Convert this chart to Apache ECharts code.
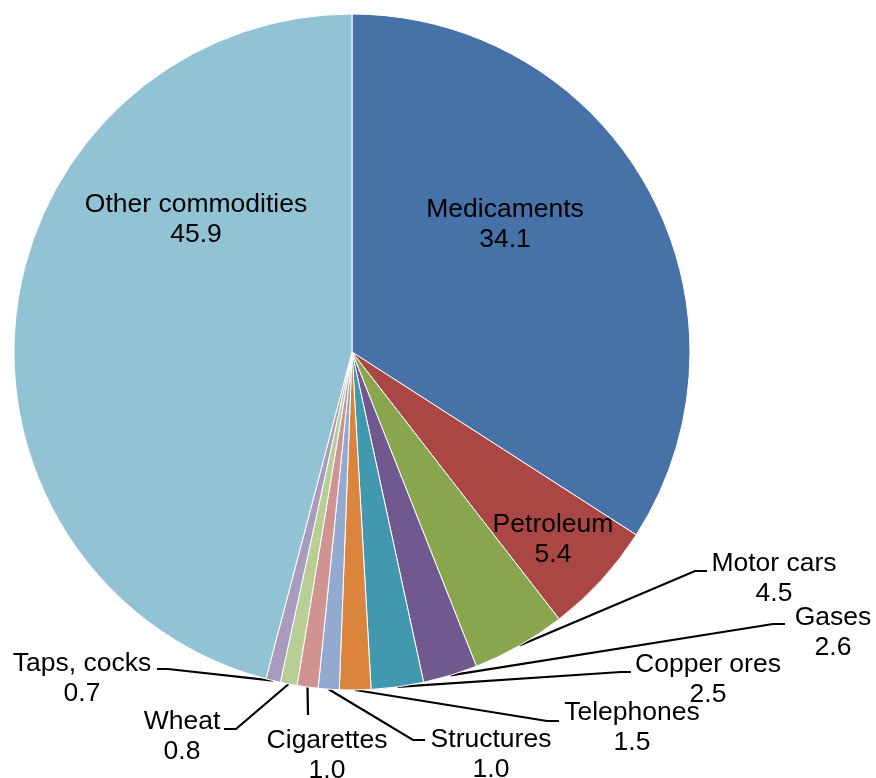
<!DOCTYPE html>
<html>
<head>
<meta charset="utf-8">
<script src="https://cdn.jsdelivr.net/npm/echarts@6/dist/echarts.min.js"></script>
<style>
html, body { margin: 0; padding: 0; background: #fff; }
#chart { width: 876px; height: 778px; }
</style>
</head>
<body>
<div id="chart"></div>
<script>
// ---- data ----
var categories = ['Medicaments', 'Petroleum', 'Motor cars', 'Gases', 'Copper ores',
  'Telephones', 'Structures', 'Cigarettes', 'Wheat', 'Taps, cocks', 'Other commodities'];
var shares = [34.1, 5.4, 4.5, 2.6, 2.5, 1.5, 1.0, 1.0, 0.8, 0.7, 45.9];

// ---- styling / layout (not data) ----
var colors = ['#4672A7', '#AA4643', '#89A54E', '#71588F', '#4198AF', '#DB843D',
  '#93A9CF', '#D19392', '#B9CD96', '#A99BBD', '#92C3D4'];
var insideLabels = { 'Medicaments': true, 'Petroleum': true, 'Other commodities': true };
// label block centre, and leader-line end [x, y, hook] for outside labels
var labelPlacement = [
  { pos: [505, 225] },
  { pos: [553, 540] },
  { pos: [774, 579], line: [707, 571, 12] },
  { pos: [833, 633], line: [785, 624, 12] },
  { pos: [708, 680], line: [631, 672, 10] },
  { pos: [632, 728], line: [559, 721, 12] },
  { pos: [491, 755], line: [425, 740, 12] },
  { pos: [327, 756], line: [308, 715, 0] },
  { pos: [182, 737], line: [224, 729, -12] },
  { pos: [82, 679], line: [157, 669, -11] },
  { pos: [196, 220] }
];

var seriesData = categories.map(function (name, i) {
  var inside = !!insideLabels[name];
  return {
    name: name,
    value: shares[i],
    itemStyle: { color: colors[i] },
    labelLine: { show: !inside }
  };
});

var chart = echarts.init(document.getElementById('chart'), null, { renderer: 'canvas' });
chart.setOption({
  backgroundColor: '#ffffff',
  animation: false,
  series: [{
    type: 'pie',
    center: [352, 352],
    radius: 338,
    startAngle: 90,
    clockwise: true,
    avoidLabelOverlap: false,
    data: seriesData,
    itemStyle: { borderColor: '#ffffff', borderWidth: 1 },
    label: {
      show: true,
      position: 'outside',
      color: '#000',
      fontFamily: 'Liberation Sans, Arial, sans-serif',
      fontSize: 26.5,
      lineHeight: 30,
      align: 'center',
      formatter: function (p) { return p.name + '\n' + p.value.toFixed(1); }
    },
    labelLine: {
      show: true,
      smooth: false,
      length: 10,
      length2: 10,
      lineStyle: { color: '#000', width: 2.2 }
    },
    labelLayout: function (p) {
      var L = labelPlacement[p.dataIndex];
      var out = { x: L.pos[0], y: L.pos[1], align: 'center', verticalAlign: 'middle', hideOverlap: false, moveOverlap: null };
      if (L.line && p.labelLinePoints && p.labelLinePoints.length) {
        var s = p.labelLinePoints[0];
        var e = L.line;
        out.labelLinePoints = [[s[0], s[1]], [e[0] - e[2], e[1]], [e[0], e[1]]];
      }
      return out;
    }
  }]
});
</script>
</body>
</html>
